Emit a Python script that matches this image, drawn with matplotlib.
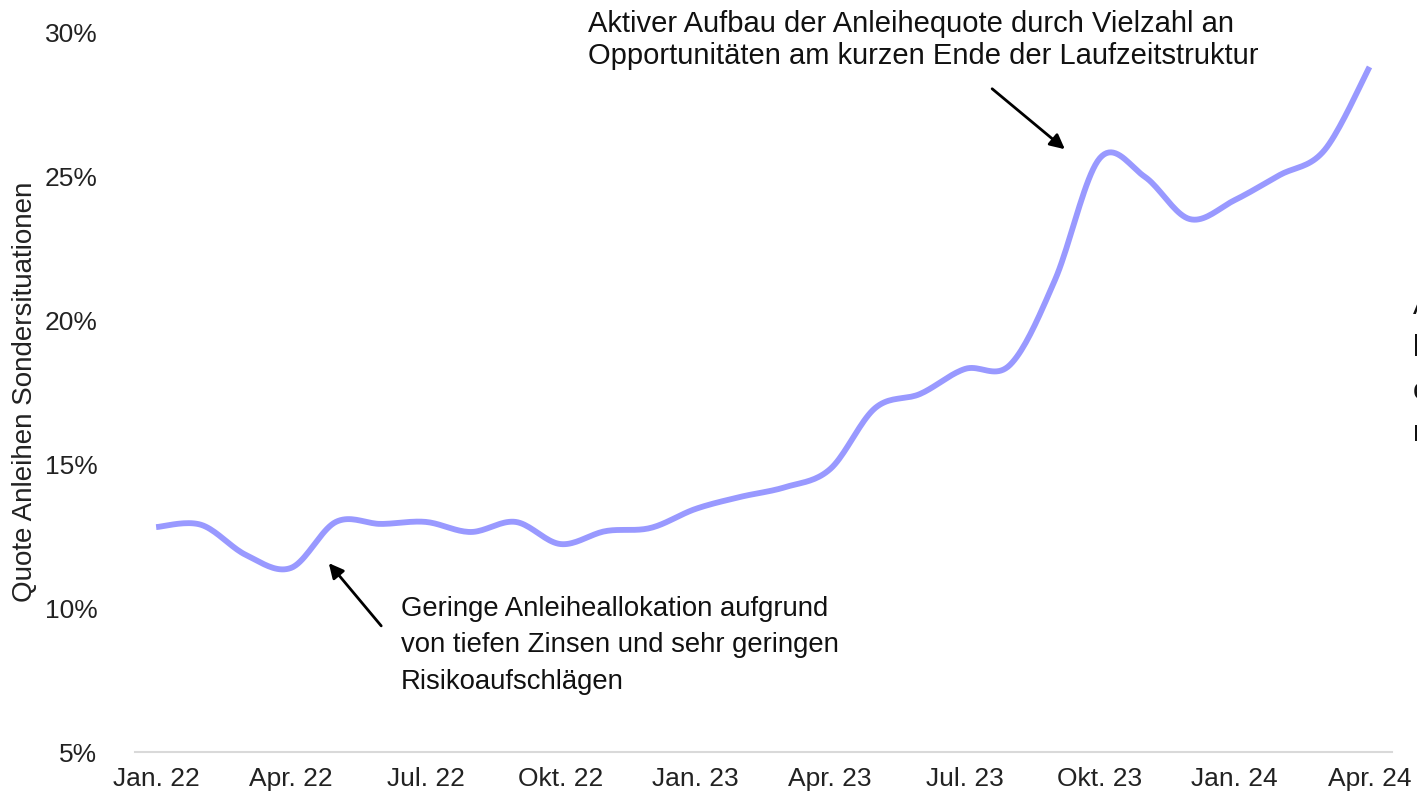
import matplotlib
matplotlib.use("Agg")
import matplotlib.pyplot as plt
import numpy as np

# monthly values Jan 22 .. Apr 24 (in %)
months = ["Jan. 22", "Feb. 22", "Mär. 22", "Apr. 22", "Mai. 22", "Jun. 22",
          "Jul. 22", "Aug. 22", "Sep. 22", "Okt. 22", "Nov. 22", "Dez. 22",
          "Jan. 23", "Feb. 23", "Mär. 23", "Apr. 23", "Mai. 23", "Jun. 23",
          "Jul. 23", "Aug. 23", "Sep. 23", "Okt. 23", "Nov. 23", "Dez. 23",
          "Jan. 24", "Feb. 24", "Mär. 24", "Apr. 24"]
quote = [12.82, 12.9, 11.85, 11.4, 13.0, 12.93, 13.0, 12.65, 13.0, 12.23,
         12.68, 12.79, 13.45, 13.87, 14.21, 14.84, 16.96, 17.45, 18.32, 18.46,
         21.41, 25.65, 25.0, 23.53, 24.19, 25.06, 25.93, 28.82]
y_ticks = [5, 10, 15, 20, 25, 30]

note_low = "Geringe Anleiheallokation aufgrund\nvon tiefen Zinsen und sehr geringen\nRisikoaufschlägen"
note_high = "Aktiver Aufbau der Anleihequote durch Vielzahl an\nOpportunitäten am kurzen Ende der Laufzeitstruktur"
y_label = "Quote Anleihen Sondersituationen"


def smooth(x, y, n=20):
    # Excel-like smoothed line (Catmull-Rom style bezier segments)
    x = np.asarray(x, float)
    y = np.asarray(y, float)
    px = np.concatenate([[x[0]], x, [x[-1]]])
    py = np.concatenate([[y[0]], y, [y[-1]]])
    xs, ys = [], []
    t = np.linspace(0, 1, n, endpoint=False)
    for i in range(1, len(px) - 2):
        p0 = np.array([px[i], py[i]])
        p3 = np.array([px[i + 1], py[i + 1]])
        c1 = p0 + (p3 - np.array([px[i - 1], py[i - 1]])) / 6
        c2 = p3 - (np.array([px[i + 2], py[i + 2]]) - p0) / 6
        b = ((1 - t) ** 3)[:, None] * p0 + (3 * (1 - t) ** 2 * t)[:, None] * c1 \
            + (3 * (1 - t) * t ** 2)[:, None] * c2 + (t ** 3)[:, None] * p3
        xs.append(b[:, 0])
        ys.append(b[:, 1])
    xs.append([x[-1]])
    ys.append([y[-1]])
    return np.concatenate(xs), np.concatenate(ys)


plt.rcParams['font.family'] = ['Liberation Sans', 'DejaVu Sans']

W, H = 1417, 805
fig = plt.figure(figsize=(W / 100, H / 100), dpi=100)
ax = fig.add_axes([135 / W, 1 - 752 / H, (1392 - 135) / W, (752 - 33) / H])

xi = np.arange(len(quote))
sx, sy = smooth(xi, quote)
ax.plot(sx, sy, color='#9999FF', lw=4.2, solid_capstyle='butt')

ax.set_xlim(-0.47, len(quote) - 0.5)
ax.set_ylim(5, 30)
ax.set_yticks(y_ticks)
ax.set_yticklabels([f"{v}%" for v in y_ticks])
ax.set_xticks(xi[::3])
ax.set_xticklabels(months[::3])
ax.tick_params(axis='y', length=0, pad=27, labelsize=19, labelcolor='#222222')
ax.tick_params(axis='x', length=0, pad=11, labelsize=19, labelcolor='#222222')
for s in ['top', 'right', 'left']:
    ax.spines[s].set_visible(False)
ax.spines['bottom'].set_color('#d9d9d9')
ax.spines['bottom'].set_linewidth(1.5)

fig.text(25 / W, 1 - 392 / H, y_label, rotation=90, ha='center', va='center',
         fontsize=20, color='#222222')

# annotations
fig.text(401 / W, 1 - 596 / H, note_low, ha='left', va='top', fontsize=19.8,
         linespacing=1.52, color='#111111')
fig.text(588 / W, 1 - 10 / H, note_high, ha='left', va='top', fontsize=21,
         linespacing=1.2, color='#111111')
# text cut off at the right edge, as in the original
fig.text(1413 / W, 1 - 292 / H, "A\nl\nc\nr", ha='left', va='top', fontsize=21,
         linespacing=1.65, color='#111111')

fig.add_artist(matplotlib.patches.FancyArrowPatch(
    (383 / W, 1 - 628 / H), (327 / W, 1 - 561 / H), transform=fig.transFigure,
    arrowstyle='-|>', mutation_scale=22, lw=2, color='black'))
fig.add_artist(matplotlib.patches.FancyArrowPatch(
    (990 / W, 1 - 87 / H), (1067 / W, 1 - 151 / H), transform=fig.transFigure,
    arrowstyle='-|>', mutation_scale=22, lw=2, color='black'))

fig.savefig("out.png", dpi=100)
